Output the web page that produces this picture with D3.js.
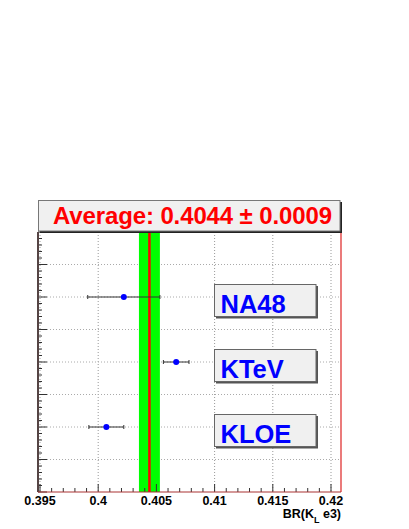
<!DOCTYPE html>
<html><head><meta charset="utf-8">
<script src="https://cdn.jsdelivr.net/npm/d3@7"></script>
<style>body{margin:0;background:#fff}svg{display:block}text{font-family:"Liberation Sans",Arial,sans-serif;font-weight:bold}</style>
</head><body><svg id="c" width="409" height="529"></svg>
<script>
const experiments = ["NA48", "KTeV", "KLOE"];
const brValues = [0.4022, 0.4067, 0.4007];
const brErrors = [0.0031, 0.0011, 0.0015];
const yPositions = [6, 4, 2];
const average = 0.4044;
const averageError = 0.0009;
const xTicks = [0.395, 0.4, 0.405, 0.41, 0.415, 0.42];
const xTickLabels = ["0.395", "0.4", "0.405", "0.41", "0.415", "0.42"];

const svg = d3.select("#c");
const L = 38, R = 341, T = 232, B = 492;
const x = d3.scaleLinear().domain([0.395, 0.42]).range([40, 331]);
const y = d3.scaleLinear().domain([0, 8]).range([B, T]);

// grid
const g = svg.append("g");
g.selectAll("line.vg").data(xTicks).join("line")
  .attr("x1", d => x(d)).attr("x2", d => x(d)).attr("y1", T).attr("y2", B)
  .attr("stroke", "#999").attr("stroke-dasharray", "1,2").attr("stroke-width", 1);
g.selectAll("line.hg").data(d3.range(1, 8)).join("line")
  .attr("x1", L).attr("x2", R).attr("y1", d => y(d)).attr("y2", d => y(d))
  .attr("stroke", "#aaa").attr("stroke-dasharray", "1,2").attr("stroke-width", 1);

// average band
svg.append("rect").attr("x", x(average - averageError)).attr("y", T)
  .attr("width", x(average + averageError) - x(average - averageError)).attr("height", B - T)
  .attr("fill", "#00ff00");
svg.append("line").attr("x1", x(average)).attr("x2", x(average)).attr("y1", T).attr("y2", B)
  .attr("stroke", "#ff0000").attr("stroke-width", 2.5);

// x axis ticks (pointing up)
const minor = d3.range(0, 26).map(i => 0.395 + i * 0.001);
svg.selectAll("line.xt").data(minor).join("line")
  .attr("x1", d => x(d)).attr("x2", d => x(d)).attr("y1", B)
  .attr("y2", (d, i) => B - (i % 5 === 0 ? 8 : 4))
  .attr("stroke", "#333").attr("stroke-width", 1);
// y axis ticks
const yMinor = d3.range(0, 41).map(i => i * 0.2);
svg.selectAll("line.yt").data(yMinor).join("line")
  .attr("x1", L).attr("x2", (d, i) => L + (i % 5 === 0 ? 9 : 4))
  .attr("y1", d => y(d)).attr("y2", d => y(d))
  .attr("stroke", "#333").attr("stroke-width", 1);

// frame
svg.append("line").attr("x1", L).attr("x2", L).attr("y1", T).attr("y2", B).attr("stroke", "#554444").attr("stroke-width", 2);
svg.append("line").attr("x1", R).attr("x2", R).attr("y1", T).attr("y2", B).attr("stroke", "#dd2222").attr("stroke-width", 1.2);
svg.append("line").attr("x1", L).attr("x2", R).attr("y1", B).attr("y2", B).attr("stroke", "#aa3333").attr("stroke-width", 1.2);

// error bars and points
const pts = experiments.map((e, i) => ({e, v: brValues[i], err: brErrors[i], yp: yPositions[i]}));
const pg = svg.append("g");
pg.selectAll("line.eb").data(pts).join("line")
  .attr("x1", d => x(d.v - d.err)).attr("x2", d => x(d.v + d.err))
  .attr("y1", d => y(d.yp)).attr("y2", d => y(d.yp)).attr("stroke", "#333").attr("stroke-width", 1);
pg.selectAll("line.c1").data(pts).join("line")
  .attr("x1", d => x(d.v - d.err)).attr("x2", d => x(d.v - d.err))
  .attr("y1", d => y(d.yp) - 2).attr("y2", d => y(d.yp) + 2).attr("stroke", "#333");
pg.selectAll("line.c2").data(pts).join("line")
  .attr("x1", d => x(d.v + d.err)).attr("x2", d => x(d.v + d.err))
  .attr("y1", d => y(d.yp) - 2).attr("y2", d => y(d.yp) + 2).attr("stroke", "#333");
pg.selectAll("circle").data(pts).join("circle")
  .attr("cx", d => x(d.v)).attr("cy", d => y(d.yp)).attr("r", 3).attr("fill", "#0000ff");

// label boxes
const lb = svg.selectAll("g.lb").data(pts).join("g");
lb.append("rect").attr("x", 216).attr("y", d => y(d.yp) - 11).attr("width", 102).attr("height", 32.5).attr("fill", "#555");
lb.append("rect").attr("x", 214.5).attr("y", d => y(d.yp) - 12.5).attr("width", 101.5).attr("height", 32)
  .attr("fill", "#f0f0f0").attr("stroke", "#666").attr("stroke-width", 1);
lb.append("text").attr("x", 220.5).attr("y", d => y(d.yp) + 16).attr("font-size", 25.5).attr("fill", "#0000ff").text(d => d.e);

// title box
svg.append("rect").attr("x", 40).attr("y", 202).attr("width", 302).attr("height", 31).attr("fill", "#222");
svg.append("rect").attr("x", 38.5).attr("y", 200.5).attr("width", 301.5).attr("height", 30.5)
  .attr("fill", "#f0f0f0").attr("stroke", "#777").attr("stroke-width", 1);
svg.append("text").attr("x", 192.5).attr("y", 224.3).attr("text-anchor", "middle")
  .attr("font-size", 24).attr("fill", "#ff0000").attr("textLength", 279)
  .text("Average: " + average.toFixed(4) + " \u00b1 " + averageError.toFixed(4));

// x tick labels
svg.selectAll("text.xl").data(xTicks).join("text")
  .attr("x", d => x(d)).attr("y", 504.5).attr("text-anchor", "middle")
  .attr("font-size", 12.5).attr("fill", "#000").text((d, i) => xTickLabels[i]);

// axis title
const at = svg.append("text").attr("x", 341).attr("y", 518).attr("text-anchor", "end").attr("font-size", 12.5).attr("fill", "#000");
at.append("tspan").text("BR(K");
at.append("tspan").attr("font-size", 9).attr("dy", 5).text("L");
at.append("tspan").attr("dy", -5).text(" e3)");
</script></body></html>
